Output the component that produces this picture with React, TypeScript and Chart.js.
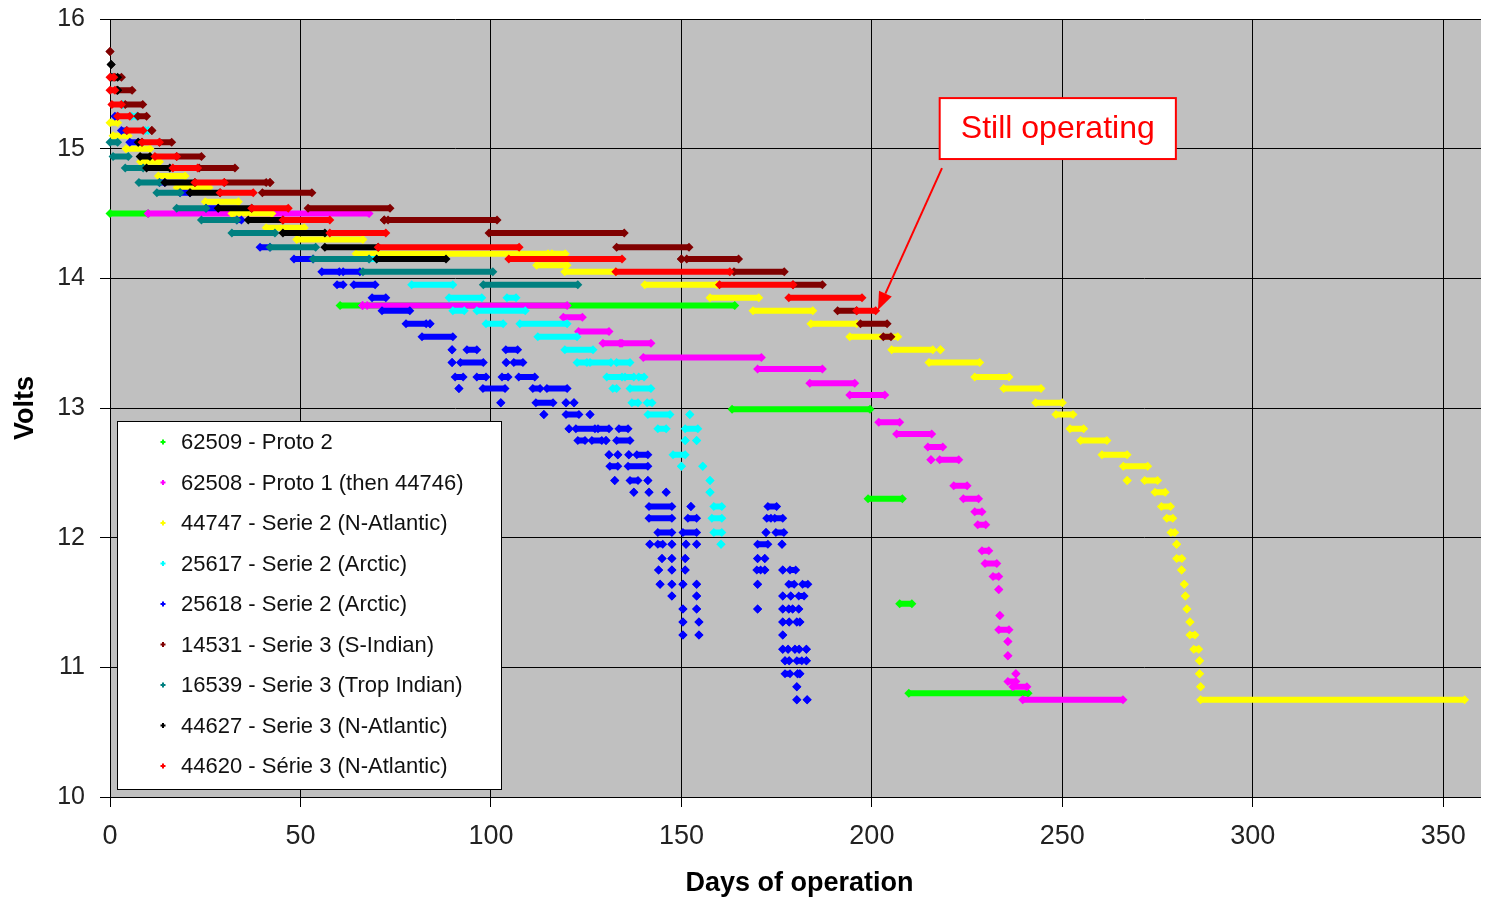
import React, { useEffect, useRef } from "react";
import { Chart, registerables } from "chart.js";

Chart.register(...registerables);

// Each entry: [volts, fromDay, toDay]  (fromDay === toDay -> a single reading)
type Seg = [number, number, number];

const SERIES_NAMES = [
  "62509 - Proto 2",
  "62508 - Proto 1 (then 44746)",
  "44747 - Serie 2 (N-Atlantic)",
  "25617 - Serie 2 (Arctic)",
  "25618 - Serie 2 (Arctic)",
  "14531 - Serie 3 (S-Indian)",
  "16539 - Serie 3 (Trop Indian)",
  "44627 - Serie 3 (N-Atlantic)",
  "44620 - Série 3 (N-Atlantic)",
];

const SERIES_COLORS = [
  "#00FF00",
  "#FF00FF",
  "#FFFF00",
  "#00FFFF",
  "#0000FF",
  "#800000",
  "#008080",
  "#000000",
  "#FF0000",
];

const S62509: Seg[] = [
  [14.5, 0, 10], [13.79, 60.4, 164], [12.99, 163.3, 199.5], [12.3, 199, 208],
  [11.49, 207.3, 210.5], [10.8, 209.7, 241],
];

const S62508: Seg[] = [
  [14.5, 10, 68], [13.79, 66.3, 66.3], [13.79, 67.5, 120], [13.7, 119, 124],
  [13.59, 123, 131], [13.5, 129.4, 133.9], [13.5, 134.4, 142], [13.39, 140, 171],
  [13.3, 170, 187], [13.19, 183.7, 195.5], [13.1, 194.2, 203.4], [12.89, 201.8, 207.3],
  [12.8, 206.5, 215.7], [12.7, 214.7, 218.6], [12.6, 215.5, 215.5], [12.6, 217.8, 222.8],
  [12.4, 221.5, 225], [12.3, 224, 228], [12.2, 227, 228.9], [12.1, 227.8, 229.9],
  [11.9, 228.9, 230.7], [11.8, 229.7, 232.8], [11.7, 231.8, 233.3], [11.6, 233.3, 233.3],
  [11.4, 233.6, 233.6], [11.29, 233.3, 236], [11.2, 235.7, 235.7], [11.09, 235.7, 235.7],
  [10.95, 237.8, 237.8], [10.89, 235.7, 237.8], [10.85, 237, 240.7], [10.75, 239.6, 265.9],
];

const S44747: Seg[] = [
  [15.2, 0, 2], [15.1, 0.8, 4.8], [15.0, 4.2, 10.5], [14.9, 8, 13], [14.79, 12.7, 19.7],
  [14.7, 17.6, 26], [14.59, 25, 33.7], [14.5, 32, 42.5], [14.39, 41, 51], [14.3, 49, 66.4],
  [14.19, 64.6, 115], [14.19, 116, 119.5], [14.1, 112, 120], [14.05, 119.4, 132.8],
  [13.95, 140.4, 159.3], [13.85, 157.5, 170.3], [13.75, 168.8, 184.5], [13.65, 184, 196],
  [13.55, 194.2, 206.8], [13.45, 205.2, 216], [13.45, 218, 218], [13.35, 215, 228.3],
  [13.24, 227, 236], [13.15, 234.6, 244.4], [13.04, 243, 250], [12.95, 248.3, 252.8],
  [12.84, 252, 255.6], [12.75, 254.8, 261.7], [12.64, 260.4, 267], [12.55, 266, 272.4],
  [12.44, 267, 267], [12.44, 271.6, 275], [12.35, 274.3, 277], [12.24, 276, 278.4],
  [12.15, 277.4, 279], [12.04, 278.5, 279.5], [11.95, 280, 280], [11.84, 280, 281.4],
  [11.75, 281.3, 281.3], [11.64, 282, 282], [11.55, 282.3, 282.3], [11.45, 282.7, 282.7],
  [11.35, 283.5, 283.5], [11.25, 283.5, 284.8], [11.14, 284.5, 285.8], [11.05, 286, 286],
  [10.95, 286, 286], [10.85, 286.3, 286.3], [10.75, 286.3, 355.6],
];

const S25617: Seg[] = [
  [15.34, 3.3, 3.3], [15.25, 5.7, 7], [15.14, 9.2, 10], [14.15, 68, 70], [13.95, 79.2, 90],
  [13.85, 89, 97.6], [13.85, 104.2, 106.6], [13.75, 90, 93], [13.75, 96.3, 109],
  [13.65, 98.7, 103.2], [13.65, 107.6, 120], [13.55, 112.3, 122.6], [13.45, 119.4, 126.8],
  [13.35, 122.6, 125.2], [13.35, 126, 131.5], [13.35, 133, 136.5], [13.24, 130.4, 134.4],
  [13.24, 135.2, 137.5], [13.24, 138.8, 140.2], [13.15, 132, 133], [13.15, 136.5, 142],
  [13.04, 137, 138.6], [13.04, 141, 142.3], [12.95, 141.2, 147], [12.95, 152.2, 152.2],
  [12.84, 143.8, 146], [12.84, 151, 154.3], [12.75, 151, 151], [12.75, 154, 154],
  [12.64, 147.8, 151], [12.55, 150, 150], [12.55, 155.6, 155.6], [12.44, 157.5, 157.5],
  [12.35, 157.5, 157.5], [12.24, 158.5, 160.6], [12.15, 158, 160.6], [12.04, 158.5, 160.6],
  [11.95, 160.4, 160.4],
];

const S25618: Seg[] = [
  [15.25, 1.3, 2], [15.14, 3, 4.4], [15.05, 5.2, 7.4], [14.74, 13, 14.4], [14.66, 18.4, 21],
  [14.54, 25.2, 28.4], [14.45, 33.3, 34.5], [14.24, 39.4, 42], [14.15, 48.3, 53.3],
  [14.05, 55.6, 60.2], [14.05, 61.2, 65.6], [13.95, 59.6, 61.2], [13.95, 64, 69.6],
  [13.85, 68.8, 72.4], [13.75, 71.4, 78.7], [13.65, 77.7, 83], [13.65, 84, 84],
  [13.55, 81.9, 90], [13.45, 89.8, 89.8], [13.45, 93.7, 96.3], [13.45, 103.9, 107],
  [13.35, 89.8, 89.8], [13.35, 92, 98], [13.35, 104, 104], [13.35, 106, 108.4],
  [13.24, 90.6, 92.7], [13.24, 96.3, 98.7], [13.24, 102.9, 104.5], [13.24, 107.3, 111.5],
  [13.15, 91.6, 91.6], [13.15, 97.9, 103.7], [13.15, 111, 112.9], [13.15, 114.7, 120],
  [13.04, 102.6, 102.6], [13.04, 111.8, 116.3], [13.04, 119.7, 119.7], [13.04, 121.8, 121.8],
  [12.95, 113.9, 113.9], [12.95, 119.7, 123.1], [12.95, 126, 126],
  [12.84, 120.5, 120.5], [12.84, 122.3, 127.3], [12.84, 128.1, 131], [12.84, 133.6, 136],
  [12.75, 122.8, 124.7], [12.75, 126.5, 129.1], [12.75, 130.2, 130.2], [12.75, 133, 136.5],
  [12.64, 131, 131], [12.64, 133.3, 133.3], [12.64, 136.2, 136.2], [12.64, 138.3, 141.2],
  [12.55, 131.2, 133.3], [12.55, 136, 141.2], [12.44, 132.5, 132.5], [12.44, 136.5, 138.6],
  [12.44, 141.2, 141.2], [12.35, 137.5, 137.5], [12.35, 141.5, 141.5], [12.35, 146, 146],
  [12.24, 141.5, 147.5], [12.24, 152.5, 152.5], [12.15, 141.5, 147.5], [12.15, 151.7, 154],
  [12.04, 143.8, 147.5], [12.04, 150.4, 154], [11.95, 141.7, 141.7], [11.95, 143.8, 145.1],
  [11.95, 147.5, 147.5], [11.95, 151.2, 151.2], [11.95, 154, 154], [11.84, 144.9, 144.9],
  [11.84, 147.5, 147.5], [11.84, 151, 151], [11.75, 144, 144], [11.75, 147.5, 147.5],
  [11.75, 151, 151], [11.64, 144.4, 144.4], [11.64, 147.5, 147.5], [11.64, 150.4, 150.4],
  [11.64, 154, 154], [11.55, 147.5, 147.5], [11.55, 154, 154], [11.45, 150.4, 150.4],
  [11.45, 154, 154], [11.35, 150.4, 150.4], [11.35, 154.6, 154.6], [11.25, 150.4, 150.4],
  [11.25, 154.6, 154.6],
  [12.24, 172.7, 175], [12.15, 172.4, 173.5], [12.15, 174.5, 176.6], [12.04, 172.2, 172.2],
  [12.04, 174.8, 176.9], [11.95, 170, 172.7], [11.95, 176.4, 176.4], [11.84, 170, 170],
  [11.84, 171.9, 171.9], [11.75, 169.8, 170.8], [11.75, 171.9, 171.9], [11.75, 176.6, 176.6],
  [11.75, 178.5, 180], [11.64, 170, 170], [11.64, 178.2, 179.6], [11.64, 181.8, 183.2],
  [11.55, 176.6, 176.6], [11.55, 178.7, 178.7], [11.55, 180.8, 182.2], [11.45, 170, 170],
  [11.45, 176.6, 176.6], [11.45, 178.2, 178.2], [11.45, 179.2, 179.2], [11.45, 180.8, 180.8],
  [11.35, 176.6, 176.6], [11.35, 178.3, 178.3], [11.35, 180.3, 180.3], [11.35, 181.1, 181.1],
  [11.25, 176.6, 176.6], [11.14, 176.6, 176.6], [11.14, 178, 178], [11.14, 179.8, 179.8],
  [11.14, 180.9, 180.9], [11.14, 182.8, 182.8], [11.05, 177.2, 177.2], [11.05, 178.3, 178.3],
  [11.05, 180.3, 181.6], [11.05, 182.8, 182.8], [10.95, 177.2, 178.5], [10.95, 180.5, 180.5],
  [10.95, 181.1, 181.1], [10.85, 180.3, 180.3], [10.75, 180.3, 180.3], [10.75, 183, 183],
];

const S14531: Seg[] = [
  [15.75, 0, 0], [15.55, 1.3, 3], [15.45, 1.8, 5.8], [15.34, 4, 8.6], [15.25, 7.3, 9.6],
  [15.14, 11, 11], [15.05, 13, 16.2], [14.94, 17.5, 24], [14.85, 23.4, 32.8], [14.74, 30, 41],
  [14.74, 42, 42], [14.66, 40, 53], [14.54, 52, 73.5], [14.45, 72, 72], [14.45, 73, 101.6],
  [14.35, 99.5, 135], [14.24, 133, 152], [14.15, 150, 150], [14.15, 151.4, 165],
  [14.05, 163.8, 177], [13.95, 179.3, 187], [13.75, 191, 196], [13.65, 197, 204],
  [13.55, 203, 205],
];

const S16539: Seg[] = [
  [15.05, 0, 2], [14.94, 0.8, 4.8], [14.85, 4, 8.7], [14.74, 7.6, 13], [14.66, 12.3, 18.4],
  [14.54, 17.5, 25.2], [14.45, 24, 33.3], [14.35, 32, 43.3], [14.24, 42, 54], [14.15, 53.3, 68],
  [14.05, 66.4, 100.5], [13.95, 98, 122.8],
];

const S44627: Seg[] = [
  [15.65, 0.3, 0.3], [15.55, 0.5, 2], [15.45, 2, 2], [15.05, 7.4, 8.4], [14.94, 7.9, 10.5],
  [14.85, 9.6, 15.7], [14.74, 14.4, 22.3], [14.66, 21, 28.9], [14.54, 28.4, 37.2],
  [14.45, 36.3, 45.4], [14.35, 45.4, 56.4], [14.24, 56.4, 70.4], [14.15, 70, 88.2],
];

const S44620: Seg[] = [
  [15.55, 0, 1], [15.45, 0, 1.3], [15.34, 0.5, 3], [15.25, 2, 5.2], [15.14, 4.4, 8.7],
  [15.05, 8.4, 13], [14.94, 11.8, 17.5], [14.85, 16.5, 23], [14.74, 22.3, 30],
  [14.66, 28.9, 37.6], [14.54, 37.2, 46.8], [14.45, 45.4, 57.7], [14.35, 57.7, 72.4],
  [14.24, 70.4, 107.4], [14.15, 104.7, 134.4], [14.05, 132.8, 162.7], [13.95, 160, 179.3],
  [13.85, 178.2, 197.4], [13.75, 196, 201],
];

const SERIES_DATA: Seg[][] = [S62509, S62508, S44747, S25617, S25618, S14531, S16539, S44627, S44620];

const X_TICKS = [0, 50, 100, 150, 200, 250, 300, 350];
const Y_TICKS = [10, 11, 12, 13, 14, 15, 16];
const X_MIN = 0;
const X_MAX = 362;
const Y_MIN = 10;
const Y_MAX = 16;

const X_TITLE = "Days of operation";
const Y_TITLE = "Volts";

const NOTE_TEXT = "Still operating";
const NOTE_BOX = { x0: 217.8, x1: 279.8, y0: 15.39, y1: 14.92 };
const NOTE_ARROW_FROM = { x: 218.4, y: 14.85 };
const NOTE_ARROW_TO = { x: 201.6, y: 13.756 };

const FONT = '"Liberation Sans", Arial, sans-serif';
const CANVAS_W = 1481;
const CANVAS_H = 892;

function toPoints(segs: Seg[]) {
  const pts: { x: number; y: number | null }[] = [];
  for (const [v, a, b] of segs) {
    pts.push({ x: a, y: v });
    pts.push({ x: b, y: v });
    pts.push({ x: b, y: null });
  }
  return pts;
}

const bgPlugin = {
  id: "plotBg",
  beforeDraw(chart: any) {
    const { ctx, chartArea } = chart;
    if (!chartArea) return;
    ctx.save();
    ctx.fillStyle = "#C0C0C0";
    ctx.fillRect(chartArea.left, chartArea.top, chartArea.right - chartArea.left, chartArea.bottom - chartArea.top);
    ctx.restore();
  },
};

const overlayPlugin = {
  id: "overlay",
  afterDraw(chart: any) {
    const { ctx, chartArea } = chart;
    const xs = chart.scales.x;
    const ys = chart.scales.y;
    ctx.save();

    // Legend box
    const bx = chartArea.left + 7;
    const bw = 384;
    const bh = 368;
    const by = chartArea.bottom - 8 - bh;
    ctx.fillStyle = "#FFFFFF";
    ctx.fillRect(bx, by, bw, bh);
    ctx.strokeStyle = "#000000";
    ctx.lineWidth = 1;
    ctx.strokeRect(bx + 0.5, by + 0.5, bw, bh);
    ctx.font = `22px ${FONT}`;
    ctx.textBaseline = "middle";
    ctx.textAlign = "left";
    chart.data.datasets.forEach((ds: any, i: number) => {
      const y = by + 21 + i * 40.5;
      const mx = bx + 46;
      ctx.fillStyle = ds.borderColor;
      ctx.fillRect(mx - 2.5, y - 1, 5, 2);
      ctx.fillRect(mx - 1, y - 2.5, 2, 5);
      ctx.fillStyle = "#111111";
      ctx.fillText(ds.label, bx + 64, y + 1);
    });

    // Annotation box
    const x0 = xs.getPixelForValue(NOTE_BOX.x0);
    const x1 = xs.getPixelForValue(NOTE_BOX.x1);
    const y0 = ys.getPixelForValue(NOTE_BOX.y0);
    const y1 = ys.getPixelForValue(NOTE_BOX.y1);
    ctx.fillStyle = "#FFFFFF";
    ctx.fillRect(x0, y0, x1 - x0, y1 - y0);
    ctx.strokeStyle = "#FF0000";
    ctx.lineWidth = 2;
    ctx.strokeRect(x0, y0, x1 - x0, y1 - y0);
    ctx.fillStyle = "#FF0000";
    ctx.font = `32px ${FONT}`;
    ctx.textAlign = "center";
    ctx.textBaseline = "middle";
    ctx.fillText(NOTE_TEXT, (x0 + x1) / 2, (y0 + y1) / 2 + 1);

    // Arrow
    const ax0 = xs.getPixelForValue(NOTE_ARROW_FROM.x);
    const ay0 = ys.getPixelForValue(NOTE_ARROW_FROM.y);
    const ax1 = xs.getPixelForValue(NOTE_ARROW_TO.x);
    const ay1 = ys.getPixelForValue(NOTE_ARROW_TO.y);
    const ang = Math.atan2(ay1 - ay0, ax1 - ax0);
    const headLen = 18;
    const headHalf = 7;
    const bxh = ax1 - headLen * Math.cos(ang);
    const byh = ay1 - headLen * Math.sin(ang);
    ctx.beginPath();
    ctx.moveTo(ax0, ay0);
    ctx.lineTo(bxh, byh);
    ctx.strokeStyle = "#FF0000";
    ctx.lineWidth = 2;
    ctx.stroke();
    ctx.beginPath();
    ctx.moveTo(ax1, ay1);
    ctx.lineTo(bxh + headHalf * Math.sin(ang), byh - headHalf * Math.cos(ang));
    ctx.lineTo(bxh - headHalf * Math.sin(ang), byh + headHalf * Math.cos(ang));
    ctx.closePath();
    ctx.fillStyle = "#FF0000";
    ctx.fill();

    ctx.restore();
  },
};

export default function App() {
  const canvasRef = useRef<HTMLCanvasElement | null>(null);

  useEffect(() => {
    if (!canvasRef.current) return;
    const datasets = SERIES_DATA.map((segs, i) => ({
      label: SERIES_NAMES[i],
      data: toPoints(segs),
      showLine: true,
      spanGaps: false,
      borderColor: SERIES_COLORS[i],
      backgroundColor: SERIES_COLORS[i],
      borderWidth: 6,
      borderCapStyle: "butt",
      pointStyle: "rectRot",
      pointRadius: 4.5,
      pointBorderWidth: 0,
      pointBackgroundColor: SERIES_COLORS[i],
      pointBorderColor: SERIES_COLORS[i],
      pointHoverRadius: 4.5,
      clip: false,
      order: SERIES_DATA.length - 1 - i,
    }));

    const chart = new Chart(canvasRef.current, {
      type: "scatter",
      data: { datasets } as any,
      options: {
        animation: false,
        responsive: false,
        maintainAspectRatio: false,
        devicePixelRatio: 1,
        events: [],
        layout: { autoPadding: false, padding: { top: 11, left: 0, right: 0, bottom: 0 } },
        plugins: {
          legend: { display: false },
          tooltip: { enabled: false },
        },
        scales: {
          x: {
            type: "linear",
            min: X_MIN,
            max: X_MAX,
            afterBuildTicks: (scale: any) => {
              scale.ticks = X_TICKS.map((v) => ({ value: v }));
            },
            afterFit: (scale: any) => {
              scale.height = 103;
              scale.paddingLeft = 0;
              scale.paddingRight = 0;
            },
            ticks: {
              font: { family: FONT, size: 27 },
              color: "#222222",
              padding: 13,
              maxRotation: 0,
              autoSkip: false,
            },
            grid: {
              color: "#000000",
              lineWidth: 1,
              tickLength: 10,
              tickColor: "#000000",
            },
            border: { color: "#000000", width: 1 },
            title: {
              display: true,
              text: X_TITLE,
              font: { family: FONT, size: 27, weight: "bold" },
              color: "#000000",
              padding: { top: 0, bottom: 0 },
            },
          },
          y: {
            type: "linear",
            min: Y_MIN,
            max: Y_MAX,
            afterBuildTicks: (scale: any) => {
              scale.ticks = Y_TICKS.map((v) => ({ value: v }));
            },
            afterFit: (scale: any) => {
              scale.width = 102;
              scale.paddingTop = 0;
              scale.paddingBottom = 0;
            },
            ticks: {
              font: { family: FONT, size: 25 },
              color: "#222222",
              padding: 15,
              autoSkip: false,
            },
            grid: {
              color: "#000000",
              lineWidth: 1,
              tickLength: 10,
              tickColor: "#000000",
            },
            border: { color: "#000000", width: 1 },
            title: {
              display: true,
              text: Y_TITLE,
              font: { family: FONT, size: 27, weight: "bold" },
              color: "#000000",
              padding: { top: 1, bottom: 0 },
            },
          },
        },
      } as any,
      plugins: [bgPlugin, overlayPlugin],
    });
    return () => chart.destroy();
  }, []);

  return (
    <div style={{ width: CANVAS_W, height: CANVAS_H }}>
      <canvas
        ref={canvasRef}
        width={CANVAS_W}
        height={CANVAS_H}
        style={{ display: "block", width: CANVAS_W, height: CANVAS_H }}
      />
    </div>
  );
}
